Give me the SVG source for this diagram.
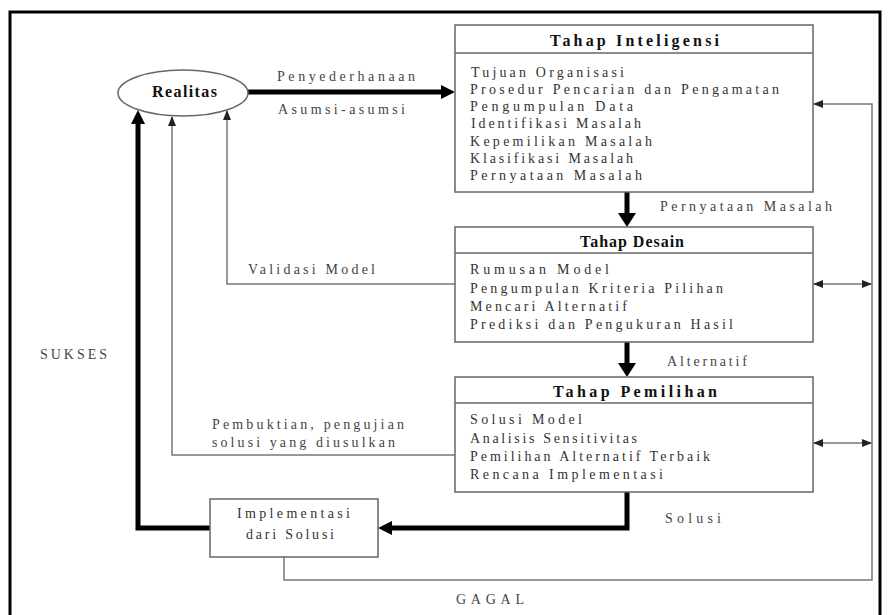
<svg xmlns="http://www.w3.org/2000/svg" width="890" height="615" viewBox="0 0 890 615">
<style>
.box{fill:#fff;stroke:#666;stroke-width:1.5}
.div{stroke:#666;stroke-width:1.5}
.title{font-family:"Liberation Serif",serif;font-weight:bold;font-size:16px;fill:#111;text-anchor:start}
.item{font-family:"Liberation Serif",serif;font-size:14px;fill:#333}
.lbl{font-family:"Liberation Serif",serif;font-size:14px;fill:#444}
.thick{fill:none;stroke:#000;stroke-width:5}
.thin{fill:none;stroke:#777;stroke-width:1.5}
</style>
<defs>
<marker id="ah" markerUnits="userSpaceOnUse" viewBox="0 0 14 14" markerWidth="14" markerHeight="14" refX="8" refY="7" orient="auto"><path d="M0,0 L14,7 L0,14 z" fill="#000"/></marker>
<marker id="ahBig" markerUnits="userSpaceOnUse" viewBox="0 0 14 18" markerWidth="14" markerHeight="18" refX="8" refY="9" orient="auto"><path d="M0,0 L14,9 L0,18 z" fill="#000"/></marker>
<marker id="at" markerUnits="userSpaceOnUse" viewBox="0 0 10 8" markerWidth="10" markerHeight="8" refX="9" refY="4" orient="auto-start-reverse"><path d="M0,0 L10,4 L0,8 z" fill="#222"/></marker>
</defs>
<rect width="890" height="615" fill="#fff"/>
<path d="M10,615 V12 H880 V615" fill="none" stroke="#000" stroke-width="3"/>

<g id="connectors">
<line class="thick" x1="248" y1="92" x2="449" y2="92" stroke-width="4" marker-end="url(#ah)"/>
<line class="thick" x1="627" y1="192" x2="627" y2="221" stroke-width="6" marker-end="url(#ahBig)"/>
<line class="thick" x1="627" y1="342" x2="627" y2="371" stroke-width="6" marker-end="url(#ahBig)"/>
<polyline class="thick" points="627,492 627,528 384,528" marker-end="url(#ah)"/>
<polyline class="thick" points="210,528 138,528 138,116" marker-end="url(#ah)"/>
<polyline class="thin" points="455,284 227,284 227,111" marker-end="url(#at)"/>
<polyline class="thin" points="455,455 172,455 172,117" marker-end="url(#at)"/>
<polyline class="thin" points="284,557 284,580 872,580 872,104 814,104" marker-end="url(#at)"/>
<line class="thin" x1="814" y1="284" x2="871" y2="284" marker-start="url(#at)" marker-end="url(#at)"/>
<line class="thin" x1="814" y1="443" x2="871" y2="443" marker-start="url(#at)" marker-end="url(#at)"/>
<text class="lbl" x="277" y="81" textLength="138" lengthAdjust="spacing">Penyederhanaan</text>
<text class="lbl" x="278" y="114" textLength="127" lengthAdjust="spacing">Asumsi-asumsi</text>
<text class="lbl" x="660" y="211" textLength="172" lengthAdjust="spacing">Pernyataan Masalah</text>
<text class="lbl" x="248" y="274" textLength="127" lengthAdjust="spacing">Validasi Model</text>
<text class="lbl" x="667" y="366" textLength="80" lengthAdjust="spacing">Alternatif</text>
<text class="lbl" x="212" y="429" textLength="192" lengthAdjust="spacing">Pembuktian, pengujian</text>
<text class="lbl" x="212" y="447" textLength="183" lengthAdjust="spacing">solusi yang diusulkan</text>
<text class="lbl" x="40" y="359" textLength="67" lengthAdjust="spacing" fill="#666">SUKSES</text>
<text class="lbl" x="665" y="523" textLength="56" lengthAdjust="spacing">Solusi</text>
<text class="lbl" x="456" y="604" textLength="68" lengthAdjust="spacing" fill="#666">GAGAL</text>
</g>

<g id="realitas">
<ellipse cx="183" cy="93" rx="65" ry="23" fill="#fff" stroke="#666" stroke-width="1.5"/>
<text class="title" x="152" y="97" font-size="14" textLength="65" lengthAdjust="spacing">Realitas</text>
</g>

<g id="tahap-inteligensi">
<rect class="box" x="455" y="25" width="358" height="167"/>
<line class="div" x1="455" y1="53" x2="813" y2="53"/>
<text class="title" x="550" y="46" textLength="169" lengthAdjust="spacing">Tahap Inteligensi</text>
<text class="item" x="471" y="77" textLength="153" lengthAdjust="spacing">Tujuan Organisasi</text>
<text class="item" x="470" y="94" textLength="309" lengthAdjust="spacing">Prosedur Pencarian dan Pengamatan</text>
<text class="item" x="470" y="111" textLength="163" lengthAdjust="spacing">Pengumpulan Data</text>
<text class="item" x="471" y="128" textLength="170" lengthAdjust="spacing">Identifikasi Masalah</text>
<text class="item" x="470" y="146" textLength="182" lengthAdjust="spacing">Kepemilikan Masalah</text>
<text class="item" x="470" y="163" textLength="163" lengthAdjust="spacing">Klasifikasi Masalah</text>
<text class="item" x="470" y="180" textLength="172" lengthAdjust="spacing">Pernyataan Masalah</text>
</g>

<g id="tahap-desain">
<rect class="box" x="455" y="227" width="358" height="115"/>
<line class="div" x1="455" y1="253" x2="813" y2="253"/>
<text class="title" x="580" y="247" textLength="104" lengthAdjust="spacing">Tahap Desain</text>
<text class="item" x="470" y="274" textLength="139" lengthAdjust="spacing">Rumusan Model</text>
<text class="item" x="470" y="293" textLength="253" lengthAdjust="spacing">Pengumpulan Kriteria Pilihan</text>
<text class="item" x="470" y="311" textLength="157" lengthAdjust="spacing">Mencari Alternatif</text>
<text class="item" x="470" y="329" textLength="263" lengthAdjust="spacing">Prediksi dan Pengukuran Hasil</text>
</g>

<g id="tahap-pemilihan">
<rect class="box" x="455" y="377" width="358" height="115"/>
<line class="div" x1="455" y1="403" x2="813" y2="403"/>
<text class="title" x="553" y="397" textLength="164" lengthAdjust="spacing">Tahap Pemilihan</text>
<text class="item" x="470" y="424" textLength="112" lengthAdjust="spacing">Solusi Model</text>
<text class="item" x="470" y="443" textLength="167" lengthAdjust="spacing">Analisis Sensitivitas</text>
<text class="item" x="470" y="461" textLength="240" lengthAdjust="spacing">Pemilihan Alternatif Terbaik</text>
<text class="item" x="470" y="479" textLength="193" lengthAdjust="spacing">Rencana Implementasi</text>
</g>

<g id="implementasi">
<rect class="box" x="210" y="499" width="168" height="58"/>
<text class="item" x="237" y="518" textLength="113" lengthAdjust="spacing">Implementasi</text>
<text class="item" x="246" y="539" textLength="88" lengthAdjust="spacing">dari Solusi</text>
</g>
</svg>
